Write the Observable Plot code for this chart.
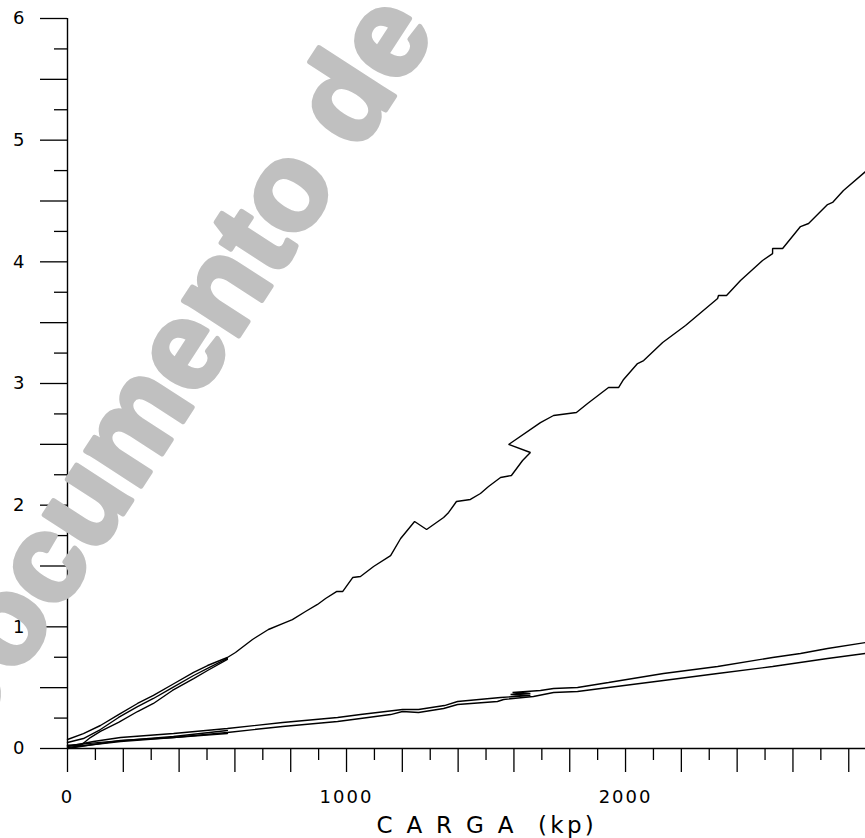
<!DOCTYPE html>
<html>
<head>
<meta charset="utf-8">
<script src="https://cdn.jsdelivr.net/npm/d3@7"></script>
<script src="https://cdn.jsdelivr.net/npm/@observablehq/plot@0.6"></script>
<style>
  html, body { margin: 0; padding: 0; background: #fff; }
  #chart svg { display: block; }
</style>
</head>
<body>
<div id="chart"></div>
<script>
// ---- Data (load in kp, settlement) ----
const upperMainLoad = [0, 57, 118, 183, 251, 308, 376, 452, 502, 573, 602, 663, 720, 771, 806, 853, 896, 925, 964, 986, 1022, 1050, 1097, 1158, 1194, 1244, 1287, 1348, 1366, 1394, 1444, 1480, 1509, 1552, 1591, 1631, 1659, 1581, 1695, 1742, 1824, 1864, 1939, 1975, 1993, 2043, 2065, 2133, 2215, 2330, 2333, 2362, 2412, 2491, 2527, 2527, 2563, 2627, 2656, 2724, 2742, 2781, 2860];
const upperMainSettle = [0.074, 0.123, 0.189, 0.279, 0.370, 0.436, 0.526, 0.625, 0.682, 0.748, 0.789, 0.896, 0.978, 1.027, 1.060, 1.126, 1.184, 1.233, 1.290, 1.290, 1.405, 1.414, 1.496, 1.586, 1.726, 1.866, 1.800, 1.899, 1.940, 2.030, 2.047, 2.096, 2.153, 2.227, 2.244, 2.367, 2.433, 2.499, 2.679, 2.737, 2.762, 2.836, 2.967, 2.967, 3.033, 3.164, 3.189, 3.337, 3.477, 3.699, 3.723, 3.723, 3.846, 4.011, 4.068, 4.110, 4.110, 4.290, 4.315, 4.471, 4.488, 4.586, 4.742];

const upperMidLoad = [0, 57, 118, 183, 251, 308, 376, 452, 502, 573];
const upperMidSettle = [0.049, 0.082, 0.156, 0.255, 0.345, 0.411, 0.501, 0.600, 0.658, 0.740];

const upperLowLoad = [0, 47, 82, 118, 183, 251, 308, 376, 452, 502, 573];
const upperLowSettle = [0.025, 0.025, 0.090, 0.140, 0.214, 0.304, 0.370, 0.477, 0.575, 0.641, 0.732];

const lowerUpLoad = [0, 93, 190, 380, 573, 771, 968, 1050, 1201, 1258, 1351, 1398, 1552, 1659, 1588, 1659, 1595, 1695, 1742, 1828, 1939, 2136, 2330, 2527, 2627, 2724, 2860];
const lowerUpSettle = [0.016, 0.058, 0.090, 0.123, 0.164, 0.214, 0.255, 0.279, 0.321, 0.321, 0.353, 0.386, 0.419, 0.436, 0.444, 0.452, 0.460, 0.477, 0.493, 0.501, 0.542, 0.616, 0.674, 0.748, 0.781, 0.822, 0.871];

const lowerDownLoad = [0, 93, 190, 380, 573, 771, 968, 1050, 1158, 1201, 1258, 1348, 1398, 1541, 1563, 1670, 1742, 1828, 1939, 2136, 2330, 2527, 2724, 2860];
const lowerDownSettle = [0, 0.033, 0.066, 0.090, 0.132, 0.181, 0.222, 0.247, 0.279, 0.304, 0.296, 0.329, 0.362, 0.386, 0.403, 0.427, 0.460, 0.468, 0.501, 0.559, 0.616, 0.674, 0.740, 0.781];

const lowerCycleALoad = [0, 190, 380, 573];
const lowerCycleASettle = [0.008, 0.057, 0.090, 0.123];
const lowerCycleBLoad = [0, 118, 380, 573];
const lowerCycleBSettle = [0.025, 0.050, 0.099, 0.148];

const yMajorTicks = [0, 0.5, 1, 1.5, 2, 2.5, 3, 3.5, 4, 4.5, 5, 5.5, 6];
const yMinorTicks = [0.25, 0.75, 1.25, 1.75, 2.25, 2.75, 3.25, 3.75, 4.25, 4.75, 5.25, 5.75];
const yTickLabels = [0, 1, 2, 3, 4, 5, 6];
const xMajorTicks = [0, 200, 400, 600, 800, 1000, 1200, 1400, 1600, 1800, 2000, 2200, 2400, 2600, 2800];
const xMinorTicks = [100, 300, 500, 700, 900, 1100, 1300, 1500, 1700, 1900, 2100, 2300, 2500, 2700];
const xTickLabels = [0, 1000, 2000];
const xTitle = "C A R G A \u00a0(kp)";
const watermark = "Documento de";

const series = [
  {name: "upperMain", load: upperMainLoad, settle: upperMainSettle},
  {name: "upperMid", load: upperMidLoad, settle: upperMidSettle},
  {name: "upperLow", load: upperLowLoad, settle: upperLowSettle},
  {name: "lowerUp", load: lowerUpLoad, settle: lowerUpSettle},
  {name: "lowerDown", load: lowerDownLoad, settle: lowerDownSettle},
  {name: "lowerCycleA", load: lowerCycleALoad, settle: lowerCycleASettle},
  {name: "lowerCycleB", load: lowerCycleBLoad, settle: lowerCycleBSettle}
];
const rows = series.flatMap(s => s.load.map((x, i) => ({series: s.name, load: x, settle: s.settle[i]})));

const W = 865, H = 838;
const mL = 67, mT = 18, mB = 90, mR = 0;

const plot = Plot.plot({
  width: W,
  height: H,
  marginLeft: mL,
  marginRight: mR,
  marginTop: mT,
  marginBottom: mB,
  style: {fontFamily: "'DejaVu Sans', 'Liberation Sans', sans-serif", fontSize: "18px", color: "#000", background: "#fff", overflow: "visible"},
  x: {domain: [0, 2860], label: null, axis: null},
  y: {domain: [0, 6], label: null, axis: null},
  marks: [
    Plot.axisY(yMajorTicks, {tickSize: 27, tickPadding: 14, strokeWidth: 1.3, tickFormat: d => yTickLabels.includes(d) ? String(d) : "", label: null}),
    Plot.axisY(yMinorTicks, {tickSize: 13, strokeWidth: 1.3, tickFormat: () => "", label: null}),
    Plot.axisX(xMajorTicks, {tickSize: 24, tickPadding: 18, strokeWidth: 1.3, tickFormat: d => xTickLabels.includes(d) ? String(d) : "", label: null}),
    Plot.axisX(xMinorTicks, {tickSize: 12, strokeWidth: 1.3, tickFormat: () => "", label: null}),
    Plot.ruleX([0], {strokeWidth: 1.4}),
    Plot.ruleY([0], {strokeWidth: 1.4}),
    Plot.line(rows, {x: "load", y: "settle", z: "series", stroke: "#000", strokeWidth: 1.4, strokeLinejoin: "miter", curve: "linear"}),
    Plot.text([xTitle], {text: d => d, frameAnchor: "bottom-left", dx: 376 - mL, dy: 832 - (H - mB), textAnchor: "start", lineAnchor: "bottom", fontSize: 23}),
    Plot.text([watermark], {text: d => d, frameAnchor: "top-left", dx: -33 - mL, dy: 753 - mT, rotate: -57, textAnchor: "start", lineAnchor: "bottom", fontFamily: "'Liberation Sans', Arial, sans-serif", fontSize: 124, fontWeight: "bold", fill: "#c0c0c0", stroke: "#c0c0c0", strokeWidth: 5, strokeLinejoin: "round"})
  ]
});

const svg = d3.select(plot);
svg.selectAll('g[aria-label="x-axis tick label"] text, g[aria-label="y-axis tick label"] text').style("letter-spacing", "2px");
svg.selectAll("text").filter(function() { return this.textContent === xTitle; }).style("letter-spacing", "3.3px");
document.getElementById("chart").appendChild(plot);
</script>
</body>
</html>
